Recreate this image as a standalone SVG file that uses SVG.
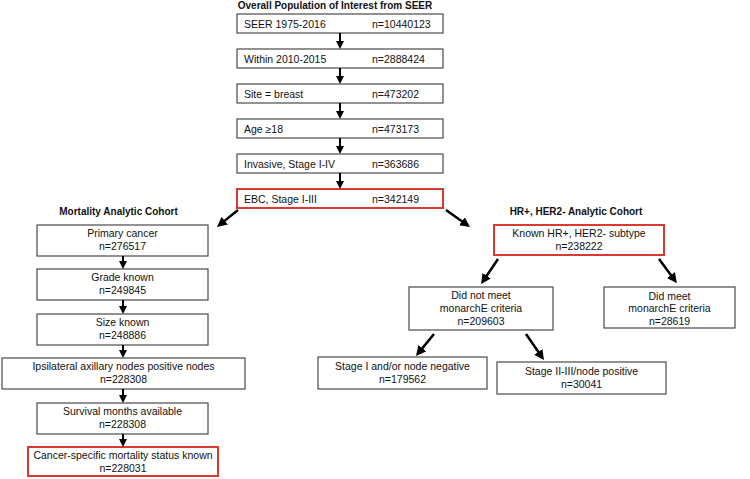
<svg xmlns="http://www.w3.org/2000/svg" width="750" height="479" viewBox="0 0 750 479">
<style>
  text { font-family: "Liberation Sans", Arial, sans-serif; font-size: 10.5px; fill: #111; }
  .title { font-weight: bold; font-size: 10px; }
  .c { text-anchor: middle; }
  .box { fill: #fff; stroke: #4a4a4a; stroke-width: 1.2; }
  .red { fill: #fff; stroke: #d93a30; stroke-width: 2; }
  .ar { stroke: #000; stroke-width: 2; fill: none; marker-end: url(#ah); }
  .ard { stroke: #000; stroke-width: 2.5; fill: none; marker-end: url(#ahd); }
</style>
<defs>
  <marker id="ah" viewBox="0 0 10 10" markerWidth="8" markerHeight="8" markerUnits="userSpaceOnUse" refX="3" refY="5" orient="auto">
    <path d="M0,0 L10,5 L0,10 z" fill="#000"/>
  </marker>
  <marker id="ahd" viewBox="0 0 10 10" markerWidth="10" markerHeight="10" markerUnits="userSpaceOnUse" refX="3" refY="5" orient="auto">
    <path d="M0,0 L10,5 L0,10 z" fill="#000"/>
  </marker>
</defs>
<rect width="750" height="479" fill="#fff"/>

<text class="title c" x="335" y="9">Overall Population of Interest from SEER</text>

<g id="n-seer"><rect class="box" x="237" y="14" width="206" height="19"/><text x="244" y="27.5">SEER 1975-2016</text><text x="372" y="27.5">n=10440123</text></g>
<g id="n-within"><rect class="box" x="237" y="49" width="206" height="19"/><text x="244" y="62.5">Within 2010-2015</text><text x="372" y="62.5">n=2888424</text></g>
<g id="n-site"><rect class="box" x="237" y="84" width="206" height="19"/><text x="244" y="97.5">Site = breast</text><text x="372" y="97.5">n=473202</text></g>
<g id="n-age"><rect class="box" x="237" y="119" width="206" height="19"/><text x="244" y="132.5">Age ≥18</text><text x="372" y="132.5">n=473173</text></g>
<g id="n-invasive"><rect class="box" x="237" y="154" width="206" height="19"/><text x="244" y="167.5">Invasive,  Stage I-IV</text><text x="372" y="167.5">n=363686</text></g>
<g id="n-ebc"><rect class="red" x="237" y="189" width="206" height="19"/><text x="244" y="202.5">EBC, Stage I-III</text><text x="372" y="202.5">n=342149</text></g>

<text class="title c" x="118.5" y="215">Mortality Analytic  Cohort</text>
<g id="n-primary"><rect class="box" x="37" y="225" width="171" height="31"/><text class="c" x="122.5" y="237">Primary cancer</text><text class="c" x="122.5" y="250">n=276517</text></g>
<g id="n-grade"><rect class="box" x="37" y="269" width="171" height="31"/><text class="c" x="122.5" y="281">Grade known</text><text class="c" x="122.5" y="294">n=249845</text></g>
<g id="n-size"><rect class="box" x="37" y="314" width="171" height="31"/><text class="c" x="122.5" y="326">Size known</text><text class="c" x="122.5" y="339">n=248886</text></g>
<g id="n-ipsi"><rect class="box" x="2" y="358" width="243" height="31"/><text class="c" x="123.5" y="370">Ipsilateral  axillary  nodes positive nodes</text><text class="c" x="123.5" y="383">n=228308</text></g>
<g id="n-surv"><rect class="box" x="37" y="403" width="171" height="31"/><text class="c" x="122.5" y="415">Survival months available</text><text class="c" x="122.5" y="428">n=228308</text></g>
<g id="n-csm"><rect class="red" x="28" y="447" width="190" height="29"/><text class="c" x="123" y="459">Cancer-specific mortality status known</text><text class="c" x="123" y="472">n=228031</text></g>

<text class="title c" x="576" y="215">HR+, HER2- Analytic  Cohort</text>
<g id="n-hr"><rect class="red" x="494" y="225" width="170" height="30"/><text class="c" x="579" y="237">Known HR+, HER2- subtype</text><text class="c" x="579" y="250">n=238222</text></g>
<g id="n-notmeet"><rect class="box" x="409" y="287" width="144" height="43"/><text class="c" x="481" y="299">Did not meet</text><text class="c" x="481" y="312">monarchE criteria</text><text class="c" x="481" y="325">n=209603</text></g>
<g id="n-meet"><rect class="box" x="604" y="287" width="131" height="41"/><text class="c" x="669.5" y="299.5">Did meet</text><text class="c" x="669.5" y="312">monarchE criteria</text><text class="c" x="669.5" y="324.5">n=28619</text></g>
<g id="n-stage1"><rect class="box" x="318" y="357" width="169" height="32"/><text class="c" x="402.5" y="370">Stage I and/or node negative</text><text class="c" x="402.5" y="383">n=179562</text></g>
<g id="n-stage23"><rect class="box" x="497" y="362" width="169" height="32"/><text class="c" x="581.5" y="375">Stage II-III/node  positive</text><text class="c" x="581.5" y="388">n=30041</text></g>

<g id="connectors">
  <line class="ar" x1="340" y1="33" x2="340" y2="43.4"/>
  <line class="ar" x1="340" y1="68" x2="340" y2="78.4"/>
  <line class="ar" x1="340" y1="103" x2="340" y2="113.4"/>
  <line class="ar" x1="340" y1="138" x2="340" y2="148.4"/>
  <line class="ar" x1="340" y1="173" x2="340" y2="183.4"/>
  <line class="ar" x1="123" y1="256" x2="123" y2="263.4"/>
  <line class="ar" x1="123" y1="300" x2="123" y2="308.4"/>
  <line class="ar" x1="123" y1="345" x2="123" y2="352.4"/>
  <line class="ar" x1="123" y1="389" x2="123" y2="397.4"/>
  <line class="ar" x1="123" y1="434" x2="123" y2="441.4"/>
  <line class="ard" x1="238" y1="210" x2="222.4" y2="222.6"/>
  <line class="ard" x1="446" y1="210" x2="464.3" y2="223"/>
  <line class="ard" x1="498" y1="259" x2="485" y2="278.3"/>
  <line class="ard" x1="659" y1="259" x2="672.7" y2="277.5"/>
  <line class="ard" x1="434" y1="334" x2="420.4" y2="350.6"/>
  <line class="ard" x1="526" y1="334" x2="540" y2="354.3"/>
</g>
</svg>
